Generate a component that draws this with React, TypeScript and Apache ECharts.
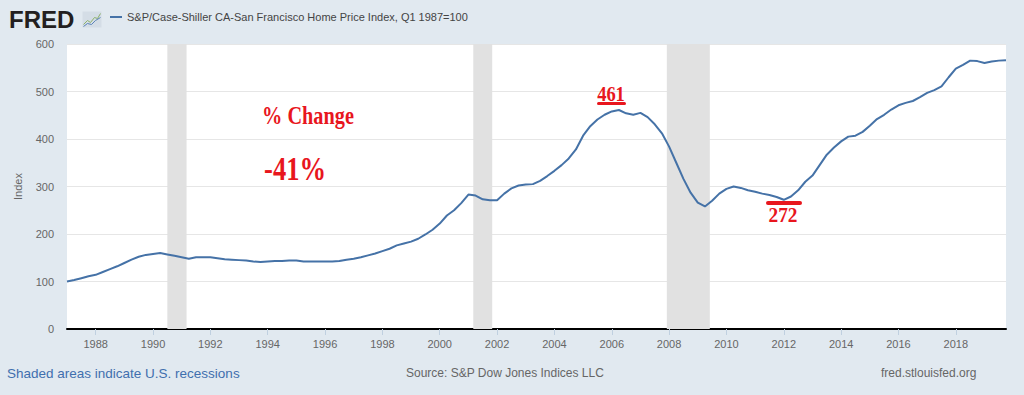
import React, { useEffect, useRef } from "react";
import * as echarts from "echarts";

const years: number[] = [];
for (let i = 0; i < 132; i++) years.push(1987 + i * 0.25);

const values: number[] = [
  100, 103, 107, 111, 114, 120, 126, 132, 139, 146, 152, 156,
  158, 160, 157, 154, 151, 148, 151, 151, 151, 149, 147, 146,
  145, 144, 142, 141, 142, 143, 143, 144, 144, 142, 142, 142,
  142, 142, 143, 146, 148, 151, 155, 159, 164, 169, 176, 180,
  184, 190, 199, 209, 222, 239, 250, 265, 283, 281, 273, 271,
  271, 285, 296, 302, 304, 305, 312, 322, 333, 345, 359, 378,
  407, 427, 441, 451, 458, 461, 454, 451, 455, 446, 431, 412,
  384, 350, 316, 287, 266, 258, 270, 285, 295, 300, 297, 292,
  289, 285, 282, 278, 272, 279, 292, 310, 323, 345, 367, 382,
  395, 405, 407, 415, 428, 442, 451, 462, 471, 476, 480, 488,
  497, 503, 511, 530, 548, 556, 565, 564, 560, 563, 565, 566,
];

const recessions: [number, number][] = [
  [1990.5, 1991.17],
  [2001.17, 2001.83],
  [2007.92, 2009.42],
];

const xTickLabels: number[] = [1988, 1990, 1992, 1994, 1996, 1998, 2000, 2002, 2004, 2006, 2008, 2010, 2012, 2014, 2016, 2018];

const seriesName = "S&P/Case-Shiller CA-San Francisco Home Price Index, Q1 1987=100";
const peakLabel = "461";
const troughLabel = "272";
const changeTitle = "% Change";
const changeValue = "-41%";

const SANS = "'Liberation Sans', Arial, sans-serif";
const RED_FONT = "'Liberation Serif', 'Times New Roman', serif";
const RED = "#e8161d";

export default function App() {
  const ref = useRef<HTMLDivElement>(null);
  useEffect(() => {
    if (!ref.current) return;
    const chart = echarts.init(ref.current, null, { renderer: "svg" });
    const data = years.map((y, i) => [y, values[i]]);
    chart.setOption({
      animation: false,
      backgroundColor: "#e1e9f0",
      grid: { left: 67, right: 18, top: 44, bottom: 66, backgroundColor: "#ffffff", show: true, borderWidth: 0 },
      xAxis: {
        type: "value",
        min: 1987,
        max: 2019.75,
        axisLine: { show: true, lineStyle: { color: "#000000", width: 2 } },
        axisTick: { show: true, customValues: xTickLabels, length: 6, lineStyle: { color: "#c0d0e0" } },
        axisLabel: {
          customValues: xTickLabels,
          color: "#666666",
          fontSize: 11,
          fontFamily: SANS,
          margin: 9,
          formatter: (v: number) => String(v),
        },
        splitLine: { show: false },
      },
      yAxis: {
        type: "value",
        min: 0,
        max: 600,
        interval: 100,
        name: "Index",
        nameLocation: "middle",
        nameGap: 44,
        nameTextStyle: { color: "#666666", fontSize: 11, fontFamily: SANS },
        axisLine: { show: false },
        axisTick: { show: false },
        axisLabel: { color: "#666666", fontSize: 11, fontFamily: SANS, margin: 13 },
        splitLine: { show: true, lineStyle: { color: "#e6e6e6", width: 1 } },
      },
      series: [
        {
          name: seriesName,
          type: "line",
          data,
          symbol: "none",
          lineStyle: { color: "#4572a7", width: 2 },
          z: 3,
          markArea: {
            silent: true,
            itemStyle: { color: "#e1e1e1" },
            data: recessions.map(([a, b]) => [{ xAxis: a }, { xAxis: b }]),
          },
        },
      ],
      graphic: [
        {
          type: "text",
          left: 9,
          top: 7,
          style: { text: "FRED", font: "900 24px 'Liberation Sans', Arial, sans-serif", fill: "#231f20" },
        },
        {
          type: "group",
          left: 81,
          top: 11,
          children: [
            { type: "rect", shape: { x: 0, y: 0, width: 19, height: 16 }, style: { fill: "#d4dde6" } },
            { type: "polyline", shape: { points: [[1, 13], [5, 9], [8, 11], [12, 6], [15, 7], [18, 2]] }, style: { stroke: "#8db26b", lineWidth: 1, fill: "none" } },
            { type: "polyline", shape: { points: [[1, 15], [5, 12], [9, 13], [13, 9], [18, 6]] }, style: { stroke: "#5a83b8", lineWidth: 1, fill: "none" } },
          ],
        },
        { type: "line", shape: { x1: 110, y1: 17, x2: 122, y2: 17 }, style: { stroke: "#4572a7", lineWidth: 2 } },
        {
          type: "text",
          left: 127,
          top: 11,
          style: { text: seriesName, font: `11px ${SANS}`, fill: "#444444" },
        },
        {
          type: "text",
          left: 7,
          top: 366,
          style: { text: "Shaded areas indicate U.S. recessions", font: `13.5px ${SANS}`, fill: "#3f6fae" },
        },
        {
          type: "text",
          left: 406,
          top: 367,
          style: { text: "Source: S&P Dow Jones Indices LLC", font: `12px ${SANS}`, fill: "#666666" },
        },
        {
          type: "text",
          left: 881,
          top: 367,
          style: { text: "fred.stlouisfed.org", font: `12px ${SANS}`, fill: "#666666" },
        },
        {
          type: "text",
          x: 308,
          y: 115,
          scaleX: 0.78,
          style: { text: changeTitle, font: `bold 26px ${RED_FONT}`, fill: RED, align: "center", verticalAlign: "middle" },
          z: 10,
        },
        {
          type: "text",
          x: 295,
          y: 169,
          scaleX: 0.78,
          style: { text: changeValue, font: `bold 34px ${RED_FONT}`, fill: RED, align: "center", verticalAlign: "middle" },
          z: 10,
        },
        {
          type: "text",
          x: 611,
          y: 94,
          scaleX: 0.88,
          style: { text: peakLabel, font: `bold 21px ${RED_FONT}`, fill: RED, align: "center", verticalAlign: "middle" },
          z: 10,
        },
        { type: "rect", shape: { x: 597, y: 102, width: 29, height: 3, r: 1.5 }, style: { fill: RED }, z: 10 },
        { type: "rect", shape: { x: 766, y: 201, width: 36, height: 4, r: 2 }, style: { fill: RED }, z: 10 },
        {
          type: "text",
          x: 783,
          y: 215,
          scaleX: 0.88,
          style: { text: troughLabel, font: `bold 22px ${RED_FONT}`, fill: RED, align: "center", verticalAlign: "middle" },
          z: 10,
        },
      ],
    });
    return () => chart.dispose();
  }, []);
  return <div ref={ref} style={{ position: "fixed", left: 0, top: 0, width: 1024, height: 395 }} />;
}
